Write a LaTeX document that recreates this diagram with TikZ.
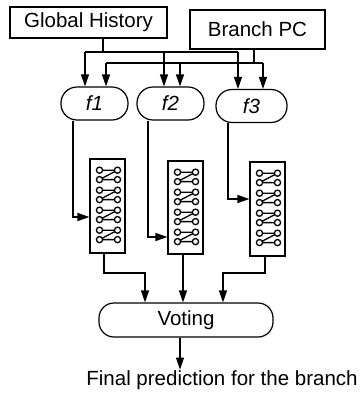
\documentclass[tikz,border=0pt]{standalone}
\usepackage{fontspec}
\setmainfont{Liberation Sans}
\usetikzlibrary{arrows.meta,calc}
\begin{document}
\begin{tikzpicture}[x=1pt,y=-1pt,
  line width=1.2pt,
  every node/.style={font=\fontsize{20.5}{24}\selectfont},
  box/.style={draw,rectangle,inner sep=0pt},
  fbox/.style={draw,rectangle,rounded corners=16pt,inner sep=0pt,minimum width=67pt,minimum height=33pt,font=\fontsize{20.5}{24}\selectfont\itshape},
  arr/.style={-{Triangle[length=12pt,width=8pt]}},
  zz/.pic={
    \draw[line width=1.3pt] (-9,-4.7) -- (9,-4.7) -- (-9,4.7) -- (9,4.7);
    \foreach \p in {(-9,-4.7),(9,-4.7),(-9,4.7),(9,4.7)}
      \draw[line width=1.3pt,fill=white] \p circle (3.1);
  }]
\useasboundingbox (0,0) rectangle (363,400);
% top boxes
\node[box,minimum width=157pt,minimum height=31pt] (gh) at (88.5,22.5) {Global History};
\node[box,minimum width=135pt,minimum height=39pt] (bpc) at (257.5,29.5) {Branch PC};
% function nodes
\node[fbox] (f1) at (94.5,103.5) {f1};
\node[fbox] (f2) at (170.5,103.5) {f2};
\node[fbox,minimum width=71pt] (f3) at (251.5,106) {f3};
% arrays
\node[box,minimum width=35pt,minimum height=94pt] (a1) at (107.5,206) {};
\node[box,minimum width=35pt,minimum height=93pt] (a2) at (185.5,207.5) {};
\node[box,minimum width=35pt,minimum height=94pt] (a3) at (267.5,209) {};
\foreach \a in {a1,a2,a3}
  \foreach \k in {0,...,3}
    \pic at ($(\a.north)+(1,16.5+20*\k)$) {zz};
% voting
\node[draw,rectangle,rounded corners=15pt,inner sep=0pt,minimum width=174pt,minimum height=34pt] (vote) at (186,320) {Voting};
\node[anchor=base,inner sep=0pt] (final) at (222,385) {Final prediction for the branch};
% bus coordinates
\coordinate (gj) at (103,52);
\coordinate (gl) at (85,52);
\coordinate (gm) at (164,52);
\coordinate (gr) at (238,52);
\coordinate (bj) at (254,63);
\coordinate (bl) at (106,63);
\coordinate (bm) at (180,63);
\coordinate (br) at (263,63);
\draw (gh.south -| gj) -- (gj);
\draw (gl) -- (gr);
\draw (bpc.south -| bj) -- (bj);
\draw (bl) -- (br);
\draw[arr] (gl) -- (gl |- f1.north);
\draw[arr] (gm) -- (gm |- f2.north);
\draw[arr] (gr) -- (gr |- f3.north);
\draw[arr] (bl) -- (bl |- f1.north);
\draw[arr] (bm) -- (bm |- f2.north);
\draw[arr] (br) -- (br |- f3.north);
% function outputs to arrays
\coordinate (j1) at (73,217);
\coordinate (j2) at (148,237);
\coordinate (j3) at (228,199);
\draw[arr] (f1.south -| j1) -- (j1) -- (j1 -| a1.west);
\draw[arr] (f2.south -| j2) -- (j2) -- (j2 -| a2.west);
\draw[arr] (f3.south -| j3) -- (j3) -- (j3 -| a3.west);
% arrays to voting
\coordinate (k1) at (104,273);
\coordinate (k1b) at (145,273);
\coordinate (k2) at (183,273);
\coordinate (k3) at (265,273);
\coordinate (k3b) at (223,273);
\draw[arr] (a1.south -| k1) -- (k1) -- (k1b) -- (k1b |- vote.north);
\draw[arr] (a2.south -| k2) -- (k2 |- vote.north);
\draw[arr] (a3.south -| k3) -- (k3) -- (k3b) -- (k3b |- vote.north);
% output
\coordinate (o) at (180,337);
\draw[arr] (vote.south -| o) -- (o |- final.north);
\end{tikzpicture}
\end{document}
